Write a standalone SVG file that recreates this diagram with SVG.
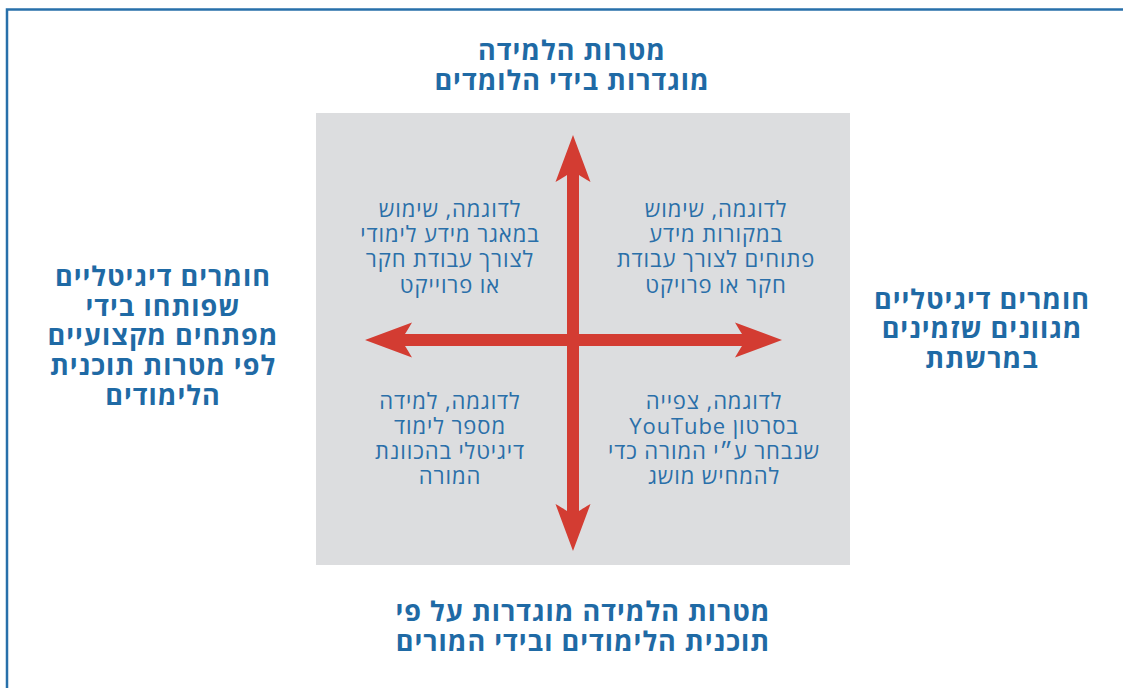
<svg xmlns="http://www.w3.org/2000/svg" width="1123" height="688" viewBox="0 0 1123 688">
  <style>
    .frame { fill: none; stroke: #2870aa; stroke-width: 2.5; }
    .field { fill: #dcdddf; }
    .axis { stroke: #d33c32; stroke-width: 12; fill: none; marker-start: url(#head); marker-end: url(#head); }
    .title { font-family: "Open Sans", "Liberation Sans", "DejaVu Sans", sans-serif; font-size: 27px; font-weight: bold; letter-spacing: 1px; fill: #1f6aa5; text-anchor: middle; direction: rtl; }
    .note { font-family: "Open Sans", "Liberation Sans", "DejaVu Sans", sans-serif; font-size: 22px; letter-spacing: 0.9px; fill: #2a6fa9; text-anchor: middle; direction: rtl; }
  </style>
  <defs>
    <!-- arrowhead with a concave back, used at both ends of each axis -->
    <marker id="head" markerUnits="userSpaceOnUse" viewBox="-8 -18 50 36" refX="0" refY="0" markerWidth="50" markerHeight="36" orient="auto-start-reverse">
      <path d="M40,0 L-7,-17.5 Q-2,-9 0,-6 L0,6 Q-2,9 -7,17.5 Z" fill="#d33c32"/>
    </marker>
  </defs>

  <rect class="frame" x="7" y="9.5" width="1130" height="700"/>

  <g id="quadrant-field">
    <rect class="field" x="316" y="113" width="534" height="452"/>
  </g>

  <g id="axes">
    <line class="axis" x1="573" y1="175" x2="573" y2="511"/>
    <line class="axis" x1="742" y1="340" x2="405" y2="340"/>
  </g>

  <g id="label-top">
    <text class="title" x="572" y="60">מטרות הלמידה</text>
    <text class="title" x="572" y="90">מוגדרות בידי הלומדים</text>
  </g>

  <g id="label-bottom">
    <text class="title" x="583" y="621">מטרות הלמידה מוגדרות על פי</text>
    <text class="title" x="583" y="651">תוכנית הלימודים ובידי המורים</text>
  </g>

  <g id="label-left">
    <text class="title" x="163" y="286">חומרים דיגיטליים</text>
    <text class="title" x="163" y="316">שפותחו בידי</text>
    <text class="title" x="163" y="345">מפתחים מקצועיים</text>
    <text class="title" x="163" y="375">לפי מטרות תוכנית</text>
    <text class="title" x="163" y="405">הלימודים</text>
  </g>

  <g id="label-right">
    <text class="title" x="982" y="309">חומרים דיגיטליים</text>
    <text class="title" x="982" y="338">מגוונים שזמינים</text>
    <text class="title" x="982" y="368">במרשתת</text>
  </g>

  <g id="quadrant-top-left">
    <text class="note" x="450" y="217">לדוגמה, שימוש</text>
    <text class="note" x="450" y="242">במאגר מידע לימודי</text>
    <text class="note" x="450" y="267">לצורך עבודת חקר</text>
    <text class="note" x="450" y="293">או פרוייקט</text>
  </g>

  <g id="quadrant-top-right">
    <text class="note" x="716" y="217">לדוגמה, שימוש</text>
    <text class="note" x="716" y="242">במקורות מידע</text>
    <text class="note" x="716" y="267">פתוחים לצורך עבודת</text>
    <text class="note" x="716" y="293">חקר או פרויקט</text>
  </g>

  <g id="quadrant-bottom-left">
    <text class="note" x="450" y="409">לדוגמה, למידה</text>
    <text class="note" x="450" y="434">מספר לימוד</text>
    <text class="note" x="450" y="459">דיגיטלי בהכוונת</text>
    <text class="note" x="450" y="484">המורה</text>
  </g>

  <g id="quadrant-bottom-right">
    <text class="note" x="714" y="409">לדוגמה, צפייה</text>
    <text class="note" x="714" y="434">בסרטון YouTube</text>
    <text class="note" x="714" y="459">שנבחר ע״י המורה כדי</text>
    <text class="note" x="714" y="484">להמחיש מושג</text>
  </g>
</svg>
